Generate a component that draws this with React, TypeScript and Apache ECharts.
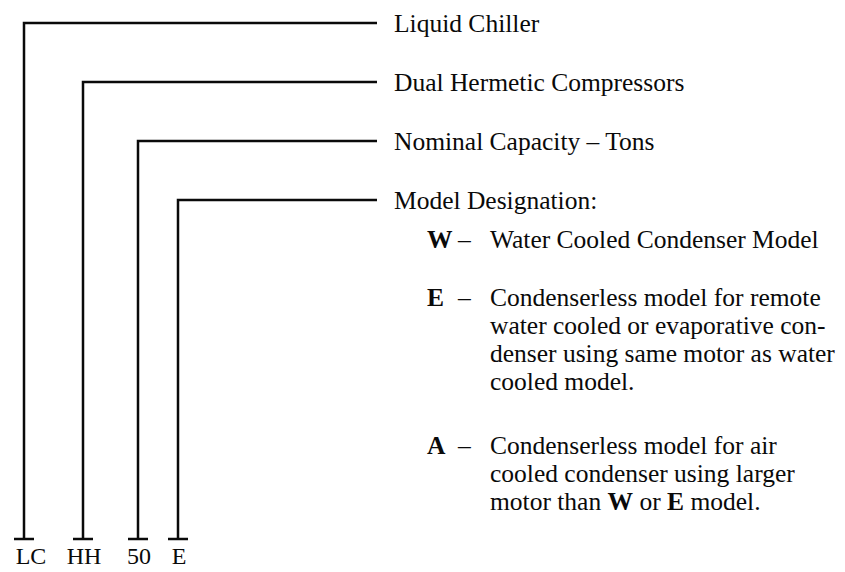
import React, { useEffect, useRef } from "react";
import * as echarts from "echarts";

// ---- content ----
const codes = ["LC", "HH", "50", "E"];
const codeMeanings = [
  "Liquid Chiller",
  "Dual Hermetic Compressors",
  "Nominal Capacity \u2013 Tons",
  "Model Designation:",
];
const modelLetters = ["W", "E", "A"];
const modelDescriptions: string[][] = [
  ["Water Cooled Condenser Model"],
  [
    "Condenserless model for remote",
    "water cooled or evaporative con-",
    "denser using same motor as water",
    "cooled model.",
  ],
  [
    "Condenserless model for air",
    "cooled condenser using larger",
    "motor than {b|W} or {b|E} model.",
  ],
];

// ---- layout ----
const stemX = [24, 83, 138, 178];
const rowY = [23, 82, 141, 200];
const leaderEndX = 377;
const stemBottomY = 539;
const footHalf = 10;
const codeLabelY = 556;
const meaningX = 394;
const letterX = 427;
const dashX = 458;
const descX = 490;
const modelRowY = [239, 297, 445];
const lineGap = 28;

const FONT = '"Liberation Serif", "Times New Roman", serif';
const INK = "#0a0a0a";
const FS = 25.5;
const CODE_FS = 24;

export default function App() {
  const ref = useRef<HTMLDivElement>(null);

  useEffect(() => {
    if (!ref.current) return;
    const chart = echarts.init(ref.current, undefined, { renderer: "svg" });
    const els: any[] = [];

    const txt = (x: number, y: number, text: string, opts: any = {}) => ({
      type: "text",
      x,
      y,
      style: {
        text,
        fill: INK,
        fontSize: opts.size || FS,
        fontFamily: FONT,
        fontWeight: opts.bold ? "bold" : "normal",
        align: opts.align || "left",
        verticalAlign: "middle",
        rich: {
          b: { fontWeight: "bold", fontSize: FS, fontFamily: FONT, fill: INK },
        },
      },
    });

    codes.forEach((code, i) => {
      els.push({
        type: "polyline",
        shape: {
          points: [
            [stemX[i], stemBottomY],
            [stemX[i], rowY[i]],
            [leaderEndX, rowY[i]],
          ],
        },
        style: { stroke: INK, lineWidth: 2.5, fill: "none", lineJoin: "miter" },
      });
      els.push({
        type: "line",
        shape: {
          x1: stemX[i] - footHalf,
          y1: stemBottomY,
          x2: stemX[i] + footHalf,
          y2: stemBottomY,
        },
        style: { stroke: INK, lineWidth: 2.5 },
      });
      els.push(
        txt(stemX[i] + (i === 0 ? 7 : 1), codeLabelY, code, { align: "center", size: CODE_FS })
      );
      els.push(txt(meaningX, rowY[i], codeMeanings[i]));
    });

    modelLetters.forEach((letter, i) => {
      const y0 = modelRowY[i];
      els.push(txt(letterX, y0, letter, { bold: true }));
      els.push(txt(dashX, y0, "\u2013"));
      modelDescriptions[i].forEach((line, j) => {
        els.push(txt(descX, y0 + j * lineGap, line));
      });
    });

    chart.setOption({
      animation: false,
      backgroundColor: "#fff",
      graphic: { elements: els },
    });

    return () => chart.dispose();
  }, []);

  return (
    <div
      ref={ref}
      style={{ position: "fixed", left: 0, top: 0, width: 845, height: 572, background: "#fff" }}
    />
  );
}
